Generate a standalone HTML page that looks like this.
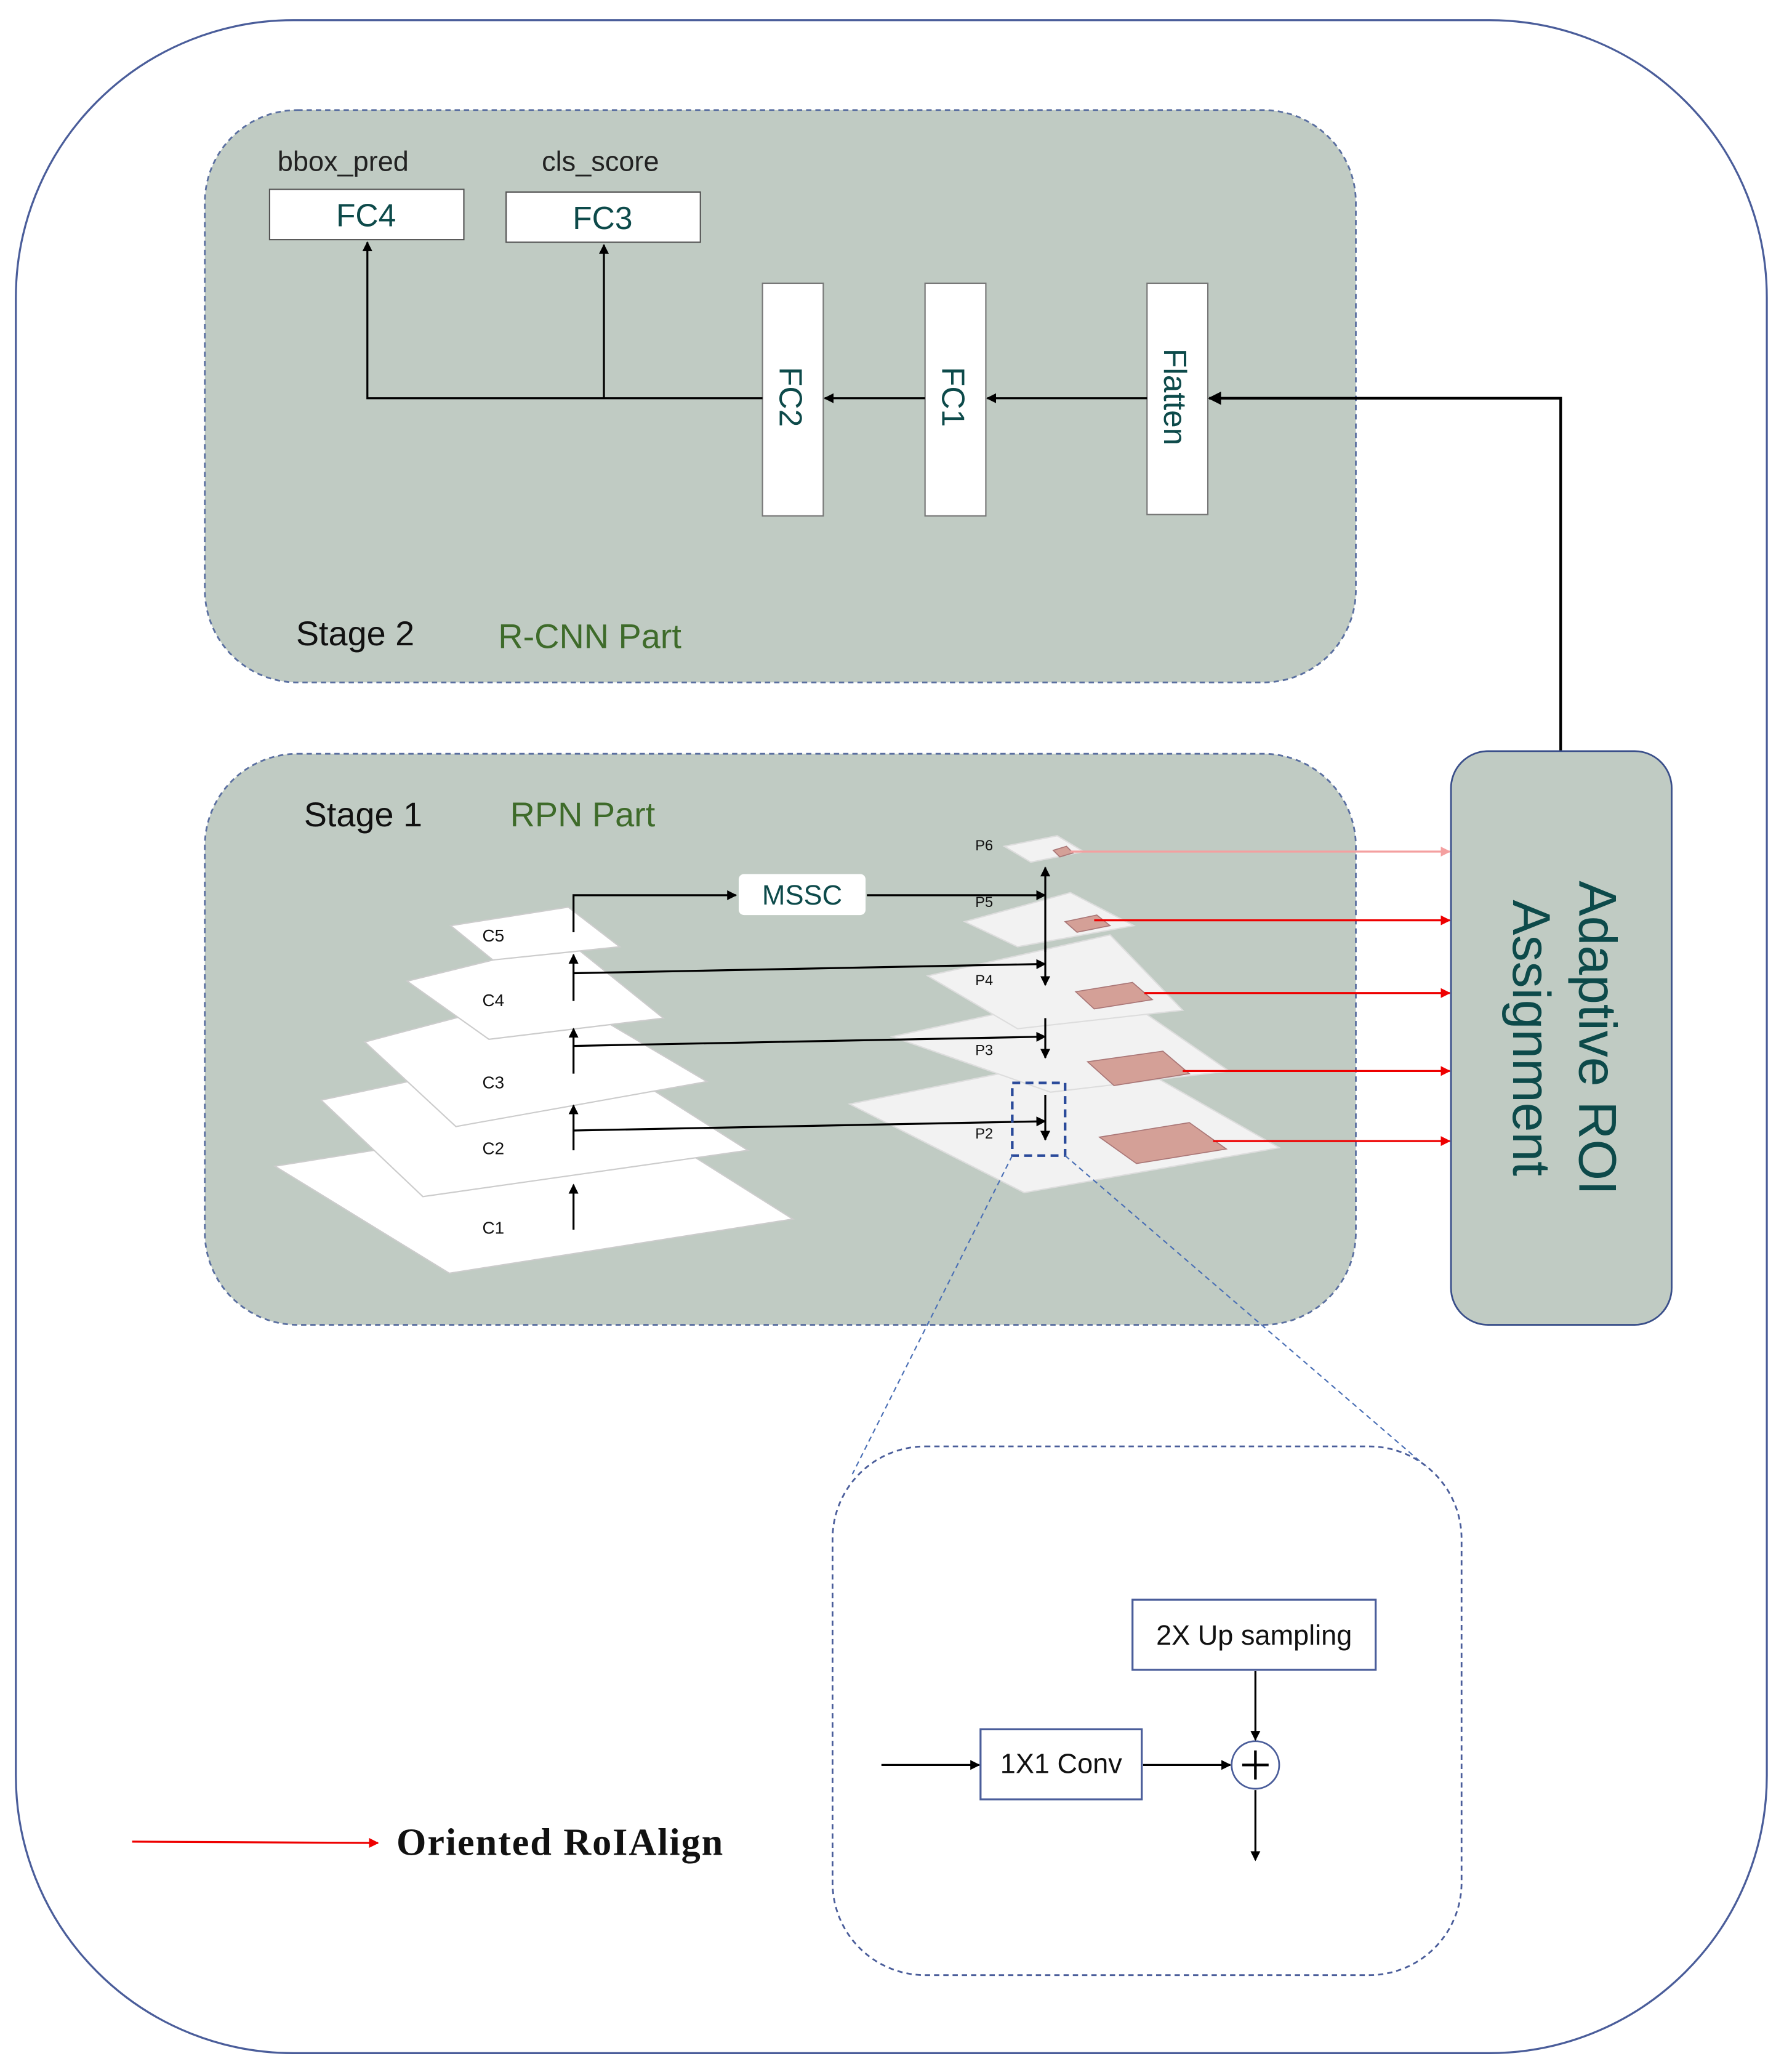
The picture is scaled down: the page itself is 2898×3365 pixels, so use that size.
<!DOCTYPE html>
<html><head><meta charset="utf-8"><style>
html,body{margin:0;padding:0;background:#fff;}
svg{display:block;}
text{font-family:"Liberation Sans",sans-serif;}
</style></head><body>
<svg width="2898" height="3365" viewBox="0 0 1350 1567" xmlns="http://www.w3.org/2000/svg">
<defs>
<marker id="a" viewBox="0 0 10 10" refX="9" refY="5" markerWidth="5" markerHeight="5" orient="auto"><path d="M0,0L10,5L0,10z" fill="#000"/></marker>
<marker id="r" viewBox="0 0 10 10" refX="9" refY="5" markerWidth="5" markerHeight="5" orient="auto"><path d="M0,0L10,5L0,10z" fill="#e00"/></marker>
<marker id="rp" viewBox="0 0 10 10" refX="9" refY="5" markerWidth="5" markerHeight="5" orient="auto"><path d="M0,0L10,5L0,10z" fill="#f4a0a0"/></marker>
</defs>
<rect x="0" y="0" width="1350" height="1567" fill="#fff"/>
<rect x="12" y="15" width="1325" height="1538" rx="210" fill="#fff" stroke="#4a5d9a" stroke-width="1.5"/>

<rect x="155" y="83" width="871" height="433" rx="70" fill="#c0cbc3" stroke="#5a6fa0" stroke-width="1.3" stroke-dasharray="4,3"/>
<text x="210" y="129" font-size="21" fill="#222">bbox_pred</text>
<text x="410" y="129" font-size="21" fill="#222">cls_score</text>
<rect x="204" y="143" width="147" height="38" fill="#fff" stroke="#555" stroke-width="1"/>
<text x="277" y="171" font-size="24" fill="#0d4a4a" text-anchor="middle">FC4</text>
<rect x="383" y="145" width="147" height="38" fill="#fff" stroke="#555" stroke-width="1"/>
<text x="456" y="173" font-size="24" fill="#0d4a4a" text-anchor="middle">FC3</text>
<rect x="577" y="214" width="46" height="176" fill="#fff" stroke="#777" stroke-width="1"/>
<rect x="700" y="214" width="46" height="176" fill="#fff" stroke="#777" stroke-width="1"/>
<rect x="868" y="214" width="46" height="175" fill="#fff" stroke="#777" stroke-width="1"/>
<text transform="translate(590,300) rotate(90)" font-size="24" fill="#0d4a4a" text-anchor="middle">FC2</text>
<text transform="translate(713,300) rotate(90)" font-size="24" fill="#0d4a4a" text-anchor="middle">FC1</text>
<text transform="translate(881,300) rotate(90)" font-size="24" fill="#0d4a4a" text-anchor="middle">Flatten</text>
<path d="M577,301H278V183" fill="none" stroke="#000" stroke-width="1.5" marker-end="url(#a)"/>
<path d="M457,301V185" fill="none" stroke="#000" stroke-width="1.5" marker-end="url(#a)"/>
<path d="M700,301H624" fill="none" stroke="#000" stroke-width="1.5" marker-end="url(#a)"/>
<path d="M868,301H747" fill="none" stroke="#000" stroke-width="1.5" marker-end="url(#a)"/>
<path d="M1181,568V301H915" fill="none" stroke="#000" stroke-width="2" marker-end="url(#a)"/>
<text x="224" y="488" font-size="26" fill="#111">Stage 2</text>
<text x="377" y="490" font-size="26" fill="#3e6b2a">R-CNN Part</text>

<rect x="155" y="570" width="871" height="432" rx="70" fill="#c0cbc3" stroke="#5a6fa0" stroke-width="1.3" stroke-dasharray="4,3"/>
<text x="230" y="625" font-size="26" fill="#111">Stage 1</text>
<text x="386" y="625" font-size="26" fill="#3e6b2a">RPN Part</text>

<g fill="#fff" stroke="#ccc" stroke-width="1">
<polygon points="208,882 470,840 600,922 340,963"/>
<polygon points="243,832 440,790 566,870 320,905"/>
<polygon points="276,788 420,750 535,818 345,852"/>
<polygon points="308,742 430,712 502,770 370,786"/>
<polygon points="341,700 430,686 469,716 373,726"/>
</g>
<g font-size="13" fill="#111">
<text x="365" y="933">C1</text><text x="365" y="873">C2</text><text x="365" y="823">C3</text><text x="365" y="761">C4</text><text x="365" y="712">C5</text>
</g>
<g fill="#f2f2f2" stroke="#ddd" stroke-width="1">
<polygon points="643,835 840,795 968,868 775,902"/>
<polygon points="675,784 840,748 930,810 795,826"/>
<polygon points="702,738 840,707 895,764 770,778"/>
<polygon points="730,697 810,675 858,700 770,716"/>
<polygon points="760,640 800,632 820,644 780,652"/>
</g>
<g fill="#d4a097" stroke="#a77" stroke-width="0.8">
<polygon points="832,860 900,849 928,869 860,880"/>
<polygon points="823,803 880,795 900,812 843,821"/>
<polygon points="814,750 857,743 872,756 828,763"/>
<polygon points="806,697 830,692 840,700 815,705"/>
<polygon points="797,643 807,640 812,645 802,648"/>
</g>
<g font-size="11" fill="#111">
<text x="738" y="861">P2</text><text x="738" y="798">P3</text><text x="738" y="745">P4</text><text x="738" y="686">P5</text><text x="738" y="643">P6</text>
</g>
<g stroke="#000" stroke-width="1.5" fill="none" marker-end="url(#a)">
<path d="M434,930V896"/><path d="M434,870V836"/><path d="M434,812V778"/><path d="M434,757V722"/>
<path d="M434,705V677H557"/>
<path d="M434,736L791,729"/><path d="M434,791L791,784"/><path d="M434,855L791,848"/>
<path d="M656,677H791"/>
<path d="M791,720V656"/>
<path d="M791,715V745"/><path d="M791,770V800"/><path d="M791,828V862"/>
</g>
<rect x="559" y="661" width="96" height="31" rx="4" fill="#fff"/>
<text x="607" y="684" font-size="21" fill="#0d4a4a" text-anchor="middle">MSSC</text>
<rect x="766" y="819" width="40" height="55" fill="none" stroke="#2a4a9a" stroke-width="2" stroke-dasharray="6,4"/>
<g stroke="#e00" stroke-width="1.5" fill="none" marker-end="url(#r)">
<path d="M828,696H1097"/><path d="M866,751H1097"/><path d="M895,810H1097"/><path d="M918,863H1097"/>
</g>
<path d="M810,644H1097" stroke="#f4a0a0" stroke-width="1.5" fill="none" marker-end="url(#rp)"/>

<rect x="1098" y="568" width="167" height="434" rx="28" fill="#c0cbc3" stroke="#3a4f8a" stroke-width="1.3"/>
<text transform="translate(1195,785) rotate(90)" font-size="40" fill="#0d4a4a" text-anchor="middle">Adaptive ROI</text>
<text transform="translate(1145,785) rotate(90)" font-size="40" fill="#0d4a4a" text-anchor="middle">Assignment</text>

<path d="M766,874L645,1115M806,874L1080,1110" stroke="#4a6fb5" stroke-width="1" stroke-dasharray="4,3" fill="none"/>
<rect x="630" y="1094" width="476" height="400" rx="70" fill="#fff" stroke="#4a5d9a" stroke-width="1.3" stroke-dasharray="4,3"/>
<rect x="857" y="1210" width="184" height="53" fill="#fff" stroke="#4a5d9a" stroke-width="1.5"/>
<text x="949" y="1244" font-size="21" fill="#111" text-anchor="middle">2X Up sampling</text>
<rect x="742" y="1308" width="122" height="53" fill="#fff" stroke="#4a5d9a" stroke-width="1.5"/>
<text x="803" y="1341" font-size="21" fill="#111" text-anchor="middle">1X1 Conv</text>
<ellipse cx="950" cy="1335" rx="18" ry="18" fill="#fff" stroke="#4a5d9a" stroke-width="1.3"/>
<path d="M940,1335H960M950,1324V1346" stroke="#000" stroke-width="2"/>
<g stroke="#000" stroke-width="1.5" fill="none" marker-end="url(#a)">
<path d="M667,1335H741"/><path d="M865,1335H931"/><path d="M950,1264V1316"/><path d="M950,1354V1407"/>
</g>

<path d="M100,1393L286,1394" stroke="#e00" stroke-width="1.5" fill="none" marker-end="url(#r)"/>
<text x="300" y="1403" font-size="29" font-weight="bold" fill="#111" textLength="247" style="font-family:'Liberation Serif',serif">Oriented RoIAlign</text>
</svg>
</body></html>
